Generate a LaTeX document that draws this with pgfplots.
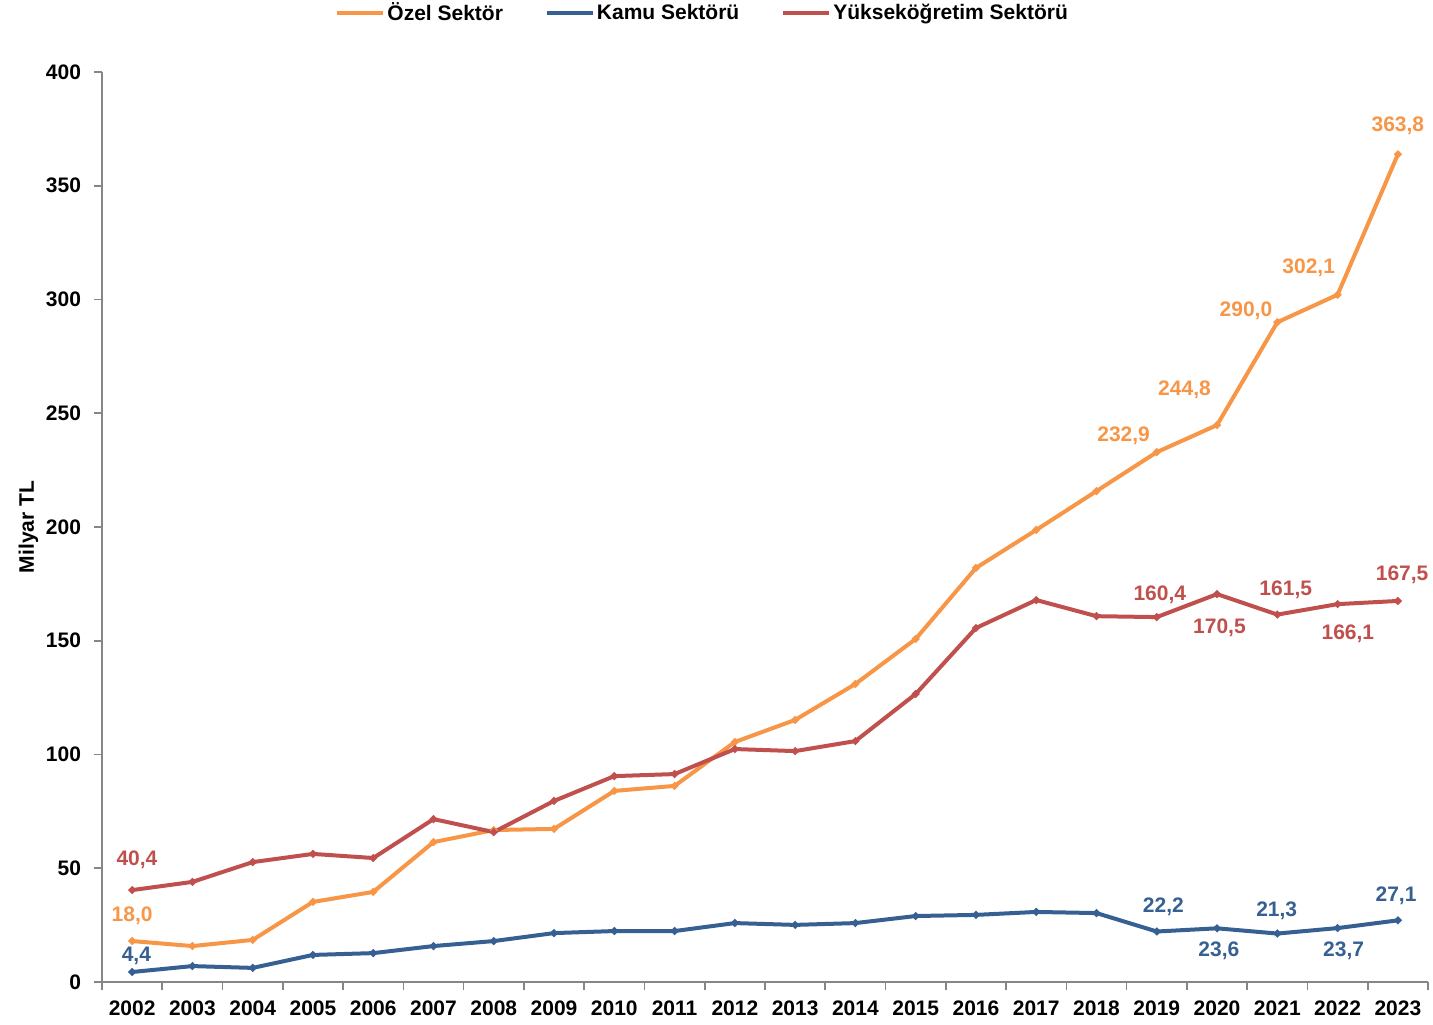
\documentclass[border=0pt]{standalone}
\usepackage{pgfplots}
\pgfplotsset{compat=1.18}
\usepackage{fontspec}
\setmainfont{Liberation Sans}
\definecolor{ozel}{RGB}{247,150,70}
\definecolor{kamu}{RGB}{54,96,146}
\definecolor{yuk}{RGB}{192,80,77}
\definecolor{axgray}{RGB}{134,134,134}
\newcommand{\lf}{\bfseries\fontsize{10.5}{12}\selectfont}
\begin{document}
\begin{tikzpicture}
\begin{axis}[
 scale only axis, width=663pt, height=455pt,
 xmin=2001.5, xmax=2023.5, ymin=0, ymax=400,
 axis x line*=bottom, axis y line*=left,
 axis line style={axgray, line width=0.8pt},
 xtick={2002,2003,2004,2005,2006,2007,2008,2009,2010,2011,2012,2013,2014,2015,2016,2017,2018,2019,2020,2021,2022,2023},
 major x tick style={draw=none},
 minor xtick={2001.5,2002.5,2003.5,2004.5,2005.5,2006.5,2007.5,2008.5,2009.5,2010.5,2011.5,2012.5,2013.5,2014.5,2015.5,2016.5,2017.5,2018.5,2019.5,2020.5,2021.5,2022.5,2023.5},
 minor x tick style={axgray, line width=0.8pt},
 ytick={0,50,100,150,200,250,300,350,400},
 y tick style={axgray, line width=0.8pt},
 tick align=outside, major tick length=4pt, minor tick length=4pt,
 xticklabel={\pgfmathprintnumber[assume math mode=true,1000 sep={}]{\tick}},
 yticklabel={\pgfmathprintnumber[assume math mode=true,1000 sep={}]{\tick}},
 xticklabel style={font=\lf, yshift=-2pt},
 yticklabel style={font=\lf, xshift=-3pt},
 ylabel={Milyar TL}, ylabel style={font=\lf, yshift=-3pt},
 legend columns=3,
 legend style={at={(0.453,1)}, anchor=south, yshift=20pt, draw=none, font=\lf,
   nodes={inner xsep=1pt},
   /tikz/every even column/.append style={column sep=20pt}},
 legend image code/.code={\draw[#1, mark=none, line width=2pt] (0pt,0pt) -- (23pt,0pt);},
 every axis plot/.append style={line width=2pt, mark=*, mark size=0.7pt},
 clip=false,
]
\addplot[ozel, mark options={fill=ozel}] coordinates {
(2002,18.0)(2003,15.8)(2004,18.5)(2005,35.2)(2006,39.6)(2007,61.5)(2008,66.8)(2009,67.3)(2010,84.0)(2011,86.2)(2012,105.5)(2013,115.2)(2014,131.0)(2015,150.8)(2016,182.0)(2017,198.7)(2018,215.8)(2019,232.9)(2020,244.8)(2021,290.0)(2022,302.1)(2023,363.8)};
\addlegendentry{Özel Sektör}
\addplot[kamu, mark options={fill=kamu}] coordinates {
(2002,4.4)(2003,7.0)(2004,6.2)(2005,11.9)(2006,12.7)(2007,15.8)(2008,18.0)(2009,21.5)(2010,22.4)(2011,22.4)(2012,25.9)(2013,25.1)(2014,25.9)(2015,29.0)(2016,29.5)(2017,30.8)(2018,30.3)(2019,22.2)(2020,23.6)(2021,21.3)(2022,23.7)(2023,27.1)};
\addlegendentry{Kamu Sektörü}
\addplot[yuk, mark options={fill=yuk}] coordinates {
(2002,40.4)(2003,44.0)(2004,52.7)(2005,56.3)(2006,54.5)(2007,71.6)(2008,65.9)(2009,79.6)(2010,90.5)(2011,91.4)(2012,102.4)(2013,101.5)(2014,105.9)(2015,126.6)(2016,155.6)(2017,167.9)(2018,160.8)(2019,160.4)(2020,170.5)(2021,161.5)(2022,166.1)(2023,167.5)};
\addlegendentry{Yükseköğretim Sektörü}
\begin{scope}[every node/.style={font=\lf}]
\node[text=yuk] at (axis cs:2002.08,53.6) {40,4};
\node[text=ozel] at (axis cs:2002.0,29.0) {18,0};
\node[text=kamu] at (axis cs:2002.07,11.4) {4,4};
\node[text=ozel] at (axis cs:2018.45,240.0) {232,9};
\node[text=ozel] at (axis cs:2019.46,260.2) {244,8};
\node[text=ozel] at (axis cs:2020.48,295.0) {290,0};
\node[text=ozel] at (axis cs:2021.52,313.8) {302,1};
\node[text=ozel] at (axis cs:2023.0,376.3) {363,8};
\node[text=yuk] at (axis cs:2019.05,170.1) {160,4};
\node[text=yuk] at (axis cs:2020.04,155.6) {170,5};
\node[text=yuk] at (axis cs:2021.14,172.3) {161,5};
\node[text=yuk] at (axis cs:2022.17,153.0) {166,1};
\node[text=yuk] at (axis cs:2023.07,178.9) {167,5};
\node[text=kamu] at (axis cs:2019.11,33.0) {22,2};
\node[text=kamu] at (axis cs:2020.03,13.6) {23,6};
\node[text=kamu] at (axis cs:2020.99,31.2) {21,3};
\node[text=kamu] at (axis cs:2022.1,13.6) {23,7};
\node[text=kamu] at (axis cs:2022.97,37.8) {27,1};
\end{scope}
\coordinate (ll) at (rel axis cs:0,0);
\coordinate (ur) at (rel axis cs:1,1);
\end{axis}
\pgfresetboundingbox
\path[use as bounding box] ([shift={(-51pt,-21pt)}]ll) rectangle ([shift={(2.5pt,36pt)}]ur);
\end{tikzpicture}
\end{document}
